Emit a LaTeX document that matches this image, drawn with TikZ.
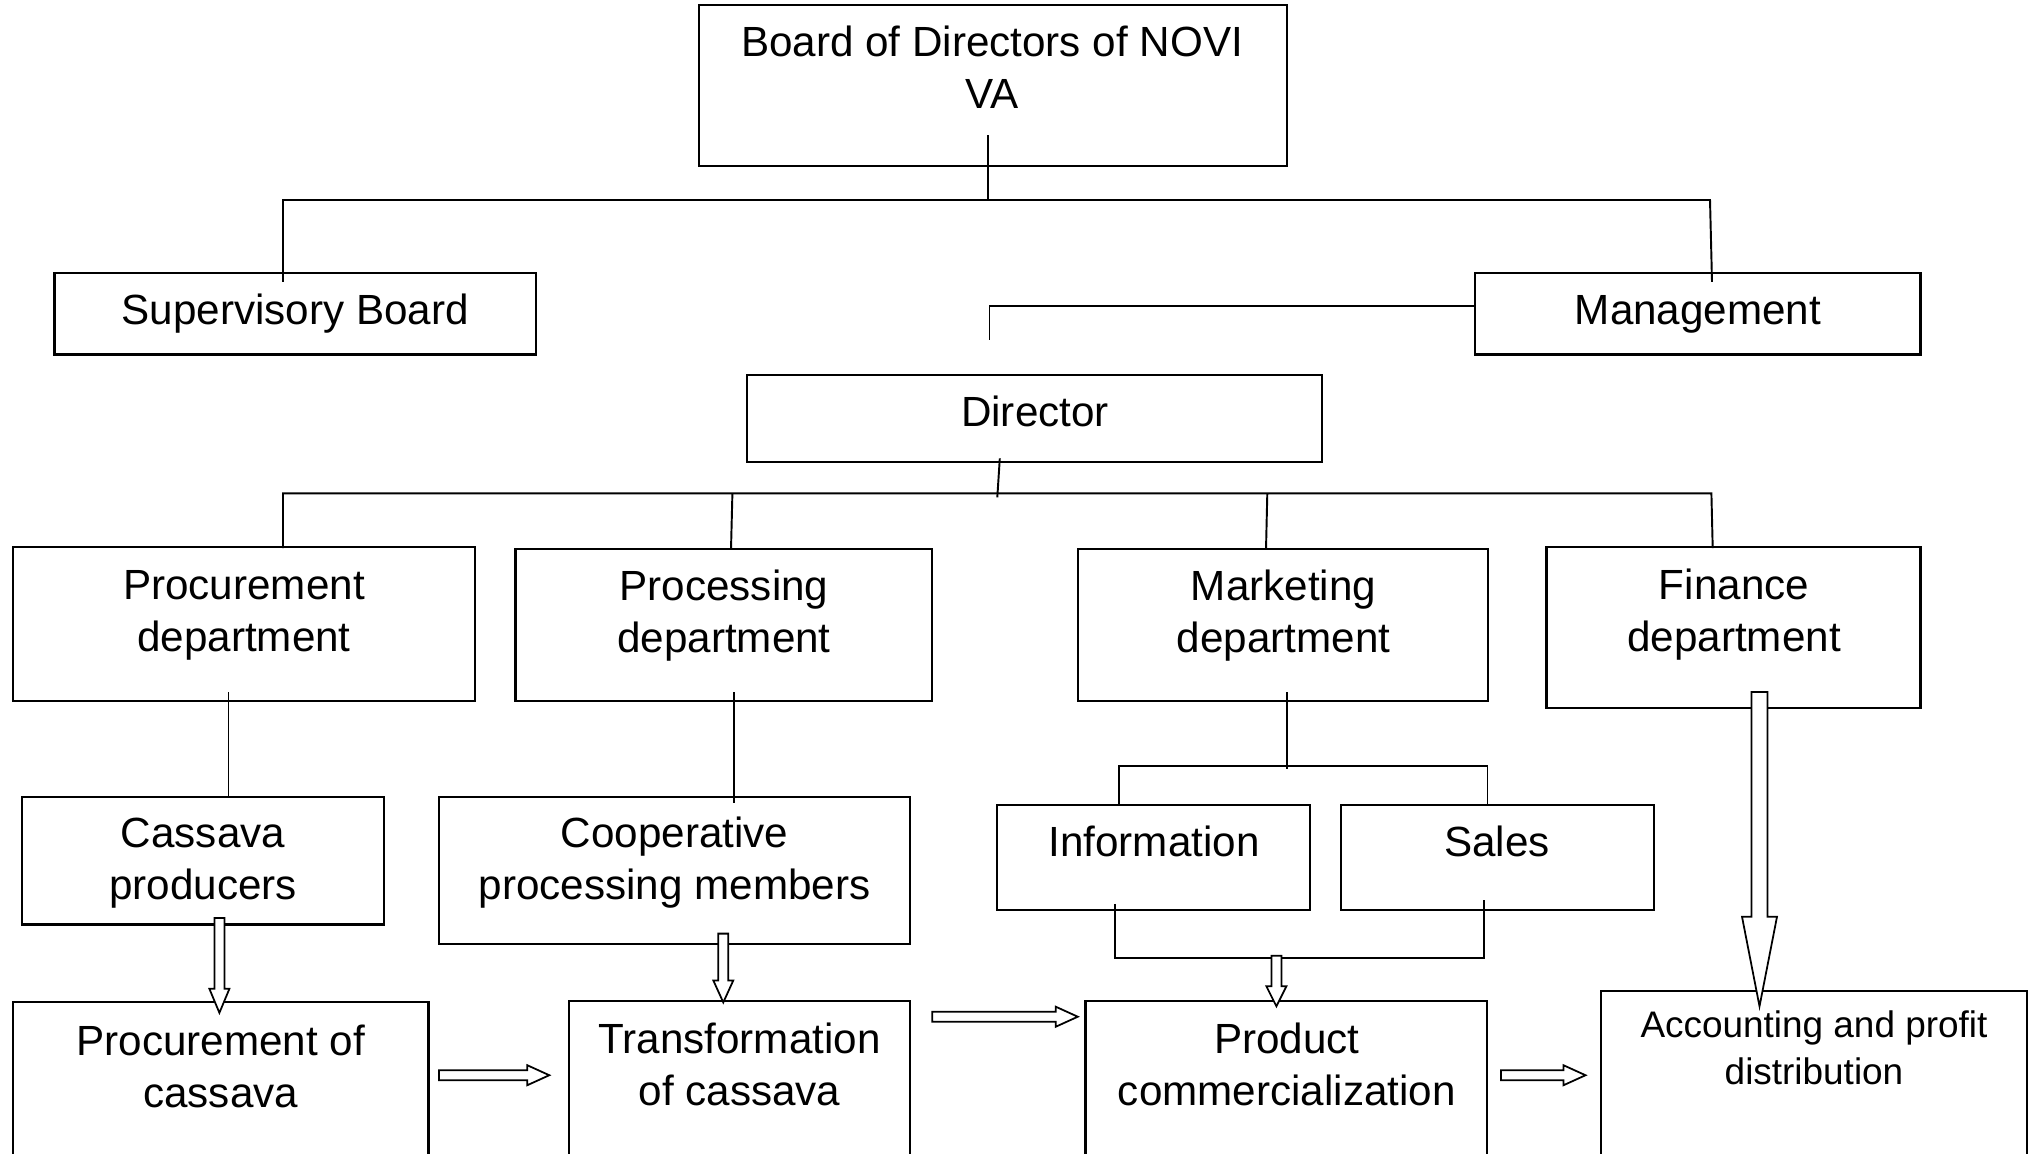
\documentclass[tikz,border=0pt]{standalone}
\usepackage{fontspec}
\setmainfont{Liberation Sans}
\usetikzlibrary{fit}
\newcommand\vblk[6]{% x, ystart, ytip, shaft half, head half, head length
  \draw[blk] (#1-#4,#2) -- (#1+#4,#2) -- (#1+#4,#3-#6) -- (#1+#5,#3-#6) -- (#1,#3)
    -- (#1-#5,#3-#6) -- (#1-#4,#3-#6) -- cycle;}
\newcommand\hblk[6]{% y, xstart, xtip, shaft half, head half, head length
  \draw[blk] (#2,#1-#4) -- (#3-#6,#1-#4) -- (#3-#6,#1-#5) -- (#3,#1)
    -- (#3-#6,#1+#5) -- (#3-#6,#1+#4) -- (#2,#1+#4) -- cycle;}
\begin{document}
\begin{tikzpicture}[x=0.01cm,y=-0.01cm,
  box/.style={draw,line width=0.6pt,inner sep=0pt,rectangle},
  lbl/.style={align=center,inner sep=0pt,font=\fontsize{12}{14.8}\selectfont},
  slbl/.style={align=center,inner sep=0pt,font=\fontsize{10.5}{13.3}\selectfont},
  conn/.style={line width=0.55pt},
  blk/.style={draw,line width=0.5pt,fill=white,line join=miter}]
\useasboundingbox (0,0) rectangle (2036,1153);
\clip (0,0) rectangle (2036,1153);
\fill[white] (0,0) rectangle (2036,1153);

% boxes
\node[box,fit={(698.6,5.2) (1286.8,166.2)}] (board) {};
\node[box,fit={(54.5,272.7) (536.3,354.5)}] (sup) {};
\node[box,fit={(1475,272.7) (1920.5,354.5)}] (mgmt) {};
\node[box,fit={(746.6,375.3) (1321.9,462.3)}] (dir) {};
\node[box,fit={(13,546.7) (475.3,701.2)}] (procd) {};
\node[box,fit={(515.5,549.3) (932.3,701.2)}] (processd) {};
\node[box,fit={(1077.8,549.3) (1488.1,701.2)}] (mktd) {};
\node[box,fit={(1546.5,546.7) (1920.5,707.7)}] (find) {};
\node[box,fit={(22.1,797.3) (384.4,924.5)}] (prod) {};
\node[box,fit={(438.9,797.3) (910.3,944)}] (coop) {};
\node[box,fit={(997.3,805.1) (1310.2,910.3)}] (info) {};
\node[box,fit={(1341.3,805.1) (1654.3,910.3)}] (sales) {};
\node[box,fit={(13,1002.4) (428.5,1200)}] (procc) {};
\node[box,fit={(568.7,1001.1) (910.3,1200)}] (trans) {};
\node[box,fit={(1085.5,1001.1) (1486.8,1200)}] (comm) {};
\node[box,fit={(1601,990.8) (2027,1200)}] (acct) {};

% texts
\node[lbl] (board-t) at (992,67.5) {Board of Directors of NOVI\\VA};
\node[lbl] (sup-t) at (295.4,314) {Supervisory Board};
\node[lbl] (mgmt-t) at (1698,314) {Management};
\node[lbl] (dir-t) at (1035,411.6) {Director};
\node[lbl] (procd-t) at (244,615) {Procurement\\department};
\node[lbl] (processd-t) at (724,616) {Processing\\department};
\node[lbl] (mktd-t) at (1283.6,616) {Marketing\\department};
\node[lbl] (find-t) at (1734,615) {Finance\\department};
\node[lbl] (prod-t) at (203,863) {Cassava\\producers};
\node[lbl] (coop-t) at (674.6,863) {Cooperative\\processing members};
\node[lbl] (info-t) at (1154,841.4) {Information};
\node[lbl] (sales-t) at (1497,841.4) {Sales};
\node[lbl] (procc-t) at (220.7,1066) {Procurement of\\cassava};
\node[lbl] (trans-t) at (739.5,1064.7) {Transformation\\of cassava};
\node[lbl] (comm-t) at (1286.8,1064) {Product\\commercialization};
\node[slbl] (acct-t) at (1814,1048) {Accounting and profit\\distribution};

% tree connectors
\draw[conn] (988.2,135) -- (988.2,200);
\draw[conn] (283,281.8) -- (283,200) -- (1710,200) -- (1712,281.8);
\draw[conn] (mgmt.west |- 0,306.4) -- (989.5,306.4) -- (989.5,340.2);
\draw[conn] (999.8,458.4) -- (997.3,497.3);
\draw[conn] (283,548) -- (283,493.4) -- (1711.4,493.4) -- (1712.7,548);
\draw[conn] (732.4,493.4) -- (731,549.5);
\draw[conn] (1267.3,493.4) -- (1266,549.5);
\draw[conn] (228.5,692) -- (228.5,797.3);
\draw[conn] (733.7,692) -- (733.7,802.5);
\draw[conn] (1286.8,692) -- (1286.8,768.7);
\draw[conn] (1119.3,805.1) -- (1119.3,766.1) -- (1487.5,766.1) -- (1487.5,805.1);
\draw[conn] (1115.4,903.8) -- (1115.4,958.3) -- (1484.2,958.3) -- (1484.2,899.9);

% block arrows
\vblk{219.4}{918}{1012.8}{5}{10}{24}
\vblk{723.3}{933.6}{1002.4}{5}{10}{22}
\vblk{1276.4}{955.7}{1006.3}{5}{10}{20}
\vblk{1759.5}{692}{1006.3}{8}{17.5}{89.6}
\hblk{1075.2}{438.9}{549.3}{5}{10}{22}
\hblk{1016.7}{932.3}{1077.8}{5}{10}{22}
\hblk{1075.2}{1501}{1585.5}{5}{10}{22}
\end{tikzpicture}
\end{document}
